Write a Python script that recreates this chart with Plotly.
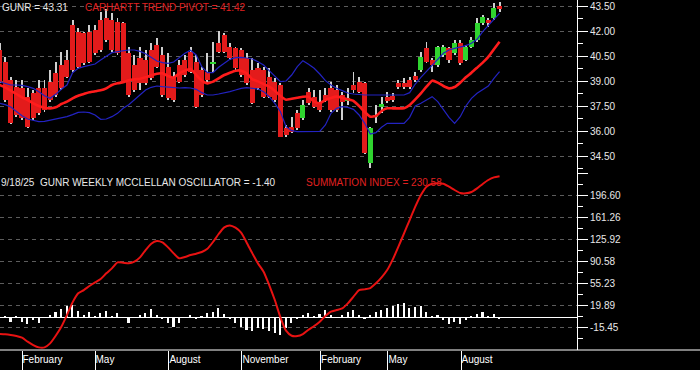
import pandas as pd
import plotly.graph_objects as go

# ---------------- data (weekly, last bar 2025-09-18) ----------------
opens = [40.86, 40.16, 39.06, 38.66, 38.56, 38.06, 38.26, 38.56, 38.56, 38.96,
         39.46, 39.96, 40.26, 42.36, 41.96, 41.86, 41.96, 42.06, 42.66, 42.76,
         42.66, 42.56, 42.46, 40.66, 39.96, 40.36, 40.26, 40.86, 41.16, 40.56,
         39.86, 39.26, 39.96, 40.26, 40.76, 40.16, 39.66, 39.56, 40.02, 41.26,
         41.76, 41.06, 40.96, 40.86, 40.36, 39.66, 39.76, 39.66, 39.26, 38.96,
         38.76, 36.16, 36.26, 37.06, 36.76, 38.36, 38.06, 37.76, 38.16, 38.56,
         38.46, 38.16, 37.82, 38.76, 38.96, 38.86, 34.06, 36.82, 37.46, 38.06,
         38.10, 38.90, 38.86, 39.06, 39.30, 39.66, 40.96, 40.26, 39.96, 40.56,
         40.96, 40.66, 41.26, 40.26, 41.06, 41.46, 42.46, 42.66, 42.76, 43.50]
highs = [41.26, 40.46, 39.26, 39.06, 39.06, 38.56, 38.46, 39.06, 39.06, 39.66,
         40.16, 40.76, 40.86, 42.66, 42.16, 41.96, 42.36, 42.36, 43.16, 43.30,
         43.06, 42.76, 42.56, 41.06, 40.56, 41.06, 40.86, 41.26, 41.56, 41.06,
         40.66, 39.56, 40.26, 40.56, 41.06, 40.56, 39.86, 40.66, 41.36, 42.02,
         41.86, 41.26, 41.06, 40.96, 40.66, 40.36, 40.06, 39.86, 39.76, 39.16,
         38.86, 36.36, 36.86, 37.26, 37.86, 38.56, 38.46, 38.46, 38.56, 38.96,
         38.76, 38.36, 38.56, 39.56, 39.26, 38.96, 36.26, 37.56, 38.06, 38.36,
         38.26, 39.06, 39.16, 39.26, 39.56, 40.76, 41.36, 40.36, 41.10, 41.16,
         41.06, 41.46, 41.46, 41.16, 41.66, 42.76, 42.96, 42.76, 43.66, 43.76]
lows = [38.86, 37.76, 36.42, 36.86, 36.66, 36.16, 36.66, 36.96, 37.16, 37.76,
        38.06, 38.46, 39.16, 39.56, 39.76, 39.96, 40.06, 40.56, 40.76, 41.36,
        40.76, 40.56, 38.86, 38.06, 38.36, 38.46, 38.76, 39.06, 39.76, 38.06,
        37.86, 37.76, 38.86, 39.26, 39.46, 37.36, 38.06, 38.86, 39.56, 40.66,
        40.66, 40.26, 39.66, 39.26, 38.76, 37.62, 38.46, 37.96, 37.96, 37.76,
        35.62, 35.66, 35.86, 36.06, 36.66, 37.56, 37.36, 37.16, 37.76, 37.16,
        37.16, 36.66, 37.56, 38.26, 38.26, 34.62, 33.76, 36.46, 37.06, 37.70,
        37.76, 38.52, 38.52, 38.52, 38.96, 39.56, 40.06, 39.56, 39.86, 40.46,
        40.06, 40.56, 39.96, 40.22, 40.96, 41.36, 42.36, 42.26, 42.66, 43.16]
closes = [38.96, 37.86, 36.46, 36.96, 36.76, 36.26, 36.76, 37.06, 37.26, 37.86,
          38.16, 38.56, 39.26, 39.66, 39.86, 40.06, 40.16, 40.66, 40.86, 41.46,
          40.86, 40.66, 38.96, 38.16, 38.46, 38.86, 38.86, 39.16, 39.86, 38.16,
          37.96, 37.86, 38.96, 39.36, 39.56, 37.46, 38.16, 39.06, 40.16, 40.76,
          40.76, 40.36, 39.76, 39.36, 38.86, 37.70, 38.56, 38.06, 38.06, 37.86,
          35.66, 35.76, 35.96, 36.16, 37.56, 37.66, 37.46, 37.26, 37.86, 37.26,
          37.26, 37.76, 37.96, 38.46, 38.36, 34.66, 36.16, 36.96, 37.62, 37.82,
          37.86, 38.62, 38.62, 38.62, 39.06, 40.46, 40.16, 39.96, 41.06, 41.06,
          40.26, 41.26, 40.06, 41.06, 41.46, 42.46, 42.86, 42.46, 43.36, 43.31]
trend_pivot = [38.76, 38.62, 38.42, 38.22, 38.02, 37.86, 37.66, 37.50, 37.40, 37.36,
               37.42, 37.62, 37.76, 37.96, 38.12, 38.22, 38.32, 38.38, 38.44, 38.56,
               38.76, 38.86, 38.92, 39.04, 39.10, 39.14, 39.22, 39.34, 39.44, 39.46,
               39.30, 39.20, 39.46, 39.62, 39.74, 39.36, 39.02, 38.86, 38.96, 39.16,
               39.36, 39.50, 39.62, 39.62, 39.46, 39.10, 38.98, 38.82, 38.66, 38.42,
               38.10, 37.88, 37.94, 38.00, 38.06, 38.06, 37.76, 37.66, 37.86, 37.98,
               38.06, 38.00, 37.90, 37.80, 37.50, 37.14, 36.86, 36.90, 37.20, 37.36,
               37.36, 37.36, 37.36, 37.56, 37.90, 38.26, 38.66, 39.02, 38.90, 38.70,
               38.56, 38.64, 38.90, 39.22, 39.50, 39.80, 40.10, 40.45, 40.90, 41.35]
band_upper = [38.96, 38.86, 38.76, 38.76, 38.74, 38.66, 38.56, 38.36, 38.12, 37.96,
              38.20, 38.50, 38.76, 39.50, 39.76, 39.86, 39.92, 40.02, 40.26, 40.50,
              40.70, 40.76, 40.82, 40.86, 40.86, 40.78, 40.64, 40.42, 40.20, 40.10,
              40.06, 40.14, 40.38, 40.66, 40.84, 40.56, 39.86, 39.50, 39.50, 39.82,
              40.06, 40.30, 40.40, 40.42, 40.38, 40.32, 40.16, 39.96, 39.62, 39.26,
              38.96, 39.00, 39.36, 39.86, 40.22, 40.00, 39.76, 39.42, 39.02, 38.76,
              38.56, 38.42, 38.28, 38.22, 38.18, 38.16, 38.16, 38.16, 38.16, 38.16,
              38.16, 38.16, 38.16, 38.30, 38.82, 39.22, 39.60, 39.96, 40.30, 40.66,
              40.86, 40.96, 41.02, 41.12, 41.26, 41.50, 41.96, 42.30, 42.70, 43.06]
band_lower = [37.66, 37.58, 37.44, 37.16, 36.92, 36.72, 36.62, 36.56, 36.58, 36.64,
              36.70, 36.78, 36.86, 36.98, 37.12, 37.14, 37.10, 36.96, 36.70, 36.72,
              36.86, 37.06, 37.36, 37.58, 37.86, 38.16, 38.46, 38.62, 38.70, 38.66,
              38.62, 38.58, 38.58, 38.60, 38.58, 38.50, 38.30, 38.16, 38.16, 38.22,
              38.28, 38.36, 38.46, 38.56, 38.60, 38.56, 38.52, 38.36, 38.06, 37.66,
              37.16, 36.26, 36.02, 35.96, 35.96, 35.96, 35.96, 35.98, 36.36, 37.06,
              37.36, 37.46, 37.42, 37.30, 36.96, 36.46, 35.82, 35.90, 36.22, 36.46,
              36.46, 36.46, 36.46, 36.82, 37.50, 37.66, 37.86, 38.06, 37.76, 37.26,
              36.82, 36.46, 36.86, 37.50, 37.96, 38.26, 38.50, 38.70, 39.16, 39.56]
summation = [-26.4, -26.9, -28.0, -29.6, -32.3, -38.7, -44.1, -47.9, -47.9, -41.4,
             -29.1, -14.6, 4.2, 24.6, 39.2, 44.5, 51.0, 56.9, 62.3, 71.4,
             79.4, 89.1, 88.6, 87.5, 90.2, 97.2, 109.0, 119.2, 123.5, 121.3,
             113.3, 103.6, 95.6, 97.7, 100.9, 103.1, 105.8, 111.1, 121.9, 134.8,
             145.5, 148.7, 145.0, 136.9, 120.8, 103.6, 87.5, 74.1, 52.6, 28.4,
             0.5, -21.0, -29.1, -29.6, -26.4, -19.4, -13.5, -6.5, 2.6, 9.6,
             12.3, 15.0, 23.0, 33.8, 44.5, 45.6, 47.7, 55.3, 64.9, 76.7,
             93.9, 114.4, 135.9, 157.3, 178.8, 197.6, 211.1, 215.9, 216.4, 215.9,
             211.1, 205.7, 200.9, 200.3, 202.5, 208.4, 215.4, 221.8, 226.1, 228.0]
oscillator = [1.5, 2.6, -6.6, 1.5, -6.6, -10.3, -3.9, -9.2, 0.5, 4.2,
              9.6, 13.3, 18.7, 20.3, 11.2, 4.2, 8.5, 1.5, 6.9, 11.2,
              3.1, 6.9, 0.3, -8.2, 0.5, 4.2, 6.9, 13.9, 4.2, -2.8,
              -9.2, -14.6, -8.2, 0.5, 4.2, -2.8, 2.6, 6.9, 9.6, 16.0,
              5.8, -2.8, -9.2, -14.6, -20.0, -21.5, -16.0, -18.9, -22.0, -25.0,
              -28.5, -16.0, -9.2, -2.8, 4.2, 8.0, 2.6, 6.5, 11.7, 4.2,
              0.5, 3.5, 9.0, 11.7, 4.2, -2.8, 4.2, 9.6, 12.2, 16.0,
              18.7, 21.9, 23.0, 14.9, 17.6, 19.2, 8.5, 1.5, 4.2, -3.9,
              -10.3, -6.6, -10.9, -3.9, 1.5, 5.8, 8.5, 1.5, 5.8, -1.4]

price_ticks = [34.50, 36.00, 37.50, 39.00, 40.50, 42.00, 43.50]
osc_ticks = [-15.45, 19.89, 55.23, 90.58, 125.92, 161.26, 196.60, 231.94]
osc_tick_labels = ["-15.45", "19.89", "55.23", "90.58", "125.92", "161.26", "196.60", ""]
month_ticks = ["2024-02-01", "2024-05-02", "2024-08-02", "2024-11-01",
               "2025-02-07", "2025-05-02", "2025-08-01"]
month_labels = ["February", "May", "August", "November", "February", "May", "August"]

last_date = "2025-09-18"
price_label = "GUNR = 43.31"
pivot_label = "CARHARTT TREND PIVOT = 41.42"
osc_label = "9/18/25\u00a0 GUNR WEEKLY MCCLELLAN OSCILLATOR = -1.40"
sum_label = "SUMMATION INDEX = 230.58"

# ---------------- figure ----------------
DAY = 86400000
dates = pd.date_range(end=last_date, periods=len(closes), freq="7D")

RED = "#e31b1b"
GREEN = "#2fd42f"
BLUE = "#2323c2"
FONT = "Liberation Sans, Arial, sans-serif"

fig = go.Figure()

# wicks (bars so they sit under the bodies)
fig.add_trace(go.Bar(
    x=dates, y=[h - l for h, l in zip(highs, lows)], base=lows,
    width=1.2 * DAY, marker=dict(color="#cfcfcf", line=dict(width=0)),
    xaxis="x", yaxis="y", hoverinfo="skip"))

# bodies
body_base = [min(o, c) for o, c in zip(opens, closes)]
body_h = [max(abs(c - o), 0.07) for o, c in zip(opens, closes)]
body_col = [GREEN if c >= o else RED for o, c in zip(opens, closes)]
fig.add_trace(go.Bar(
    x=dates, y=body_h, base=body_base, width=6.3 * DAY,
    marker=dict(color=body_col, line=dict(width=0)),
    xaxis="x", yaxis="y", hoverinfo="skip"))

fig.add_trace(go.Scatter(x=dates, y=band_upper, mode="lines",
                         line=dict(color=BLUE, width=1.2), xaxis="x", yaxis="y"))
fig.add_trace(go.Scatter(x=dates, y=band_lower, mode="lines",
                         line=dict(color=BLUE, width=1.2), xaxis="x", yaxis="y"))
fig.add_trace(go.Scatter(x=dates, y=trend_pivot, mode="lines",
                         line=dict(color="#ff1c1c", width=2.6, shape="spline", smoothing=0.4),
                         xaxis="x", yaxis="y"))

# oscillator histogram + summation index
fig.add_trace(go.Bar(x=dates, y=oscillator, width=2.0 * DAY,
                     marker=dict(color="white", line=dict(width=0)),
                     xaxis="x", yaxis="y2"))
fig.add_trace(go.Scatter(x=dates, y=summation, mode="lines",
                         line=dict(color="#e81212", width=2, shape="spline", smoothing=0.6),
                         xaxis="x", yaxis="y2"))

def mids(t):
    out = [t[0] - (t[1] - t[0]) / 2]
    out += [(a + b) / 2 for a, b in zip(t[:-1], t[1:])]
    return out

axis_common = dict(
    side="right", anchor="x", showline=True, linecolor="white", linewidth=1,
    ticks="outside", ticklen=10, tickcolor="white", tickwidth=1,
    showgrid=True, gridcolor="#5c5c5c", griddash="4px,4px", gridwidth=1,
    tickfont=dict(family=FONT, size=10, color="#e8e8e8"),
)

fig.update_layout(
    width=700, height=370,
    margin=dict(l=0, r=123, t=0, b=20),
    paper_bgcolor="black", plot_bgcolor="black",
    showlegend=False, barmode="overlay", bargap=0,
    font=dict(family=FONT, size=10, color="#e8e8e8"),
    xaxis=dict(
        type="date", anchor="y2",
        range=["2024-01-04 14:00", "2025-12-23 12:00"],
        tickvals=month_ticks, ticktext=month_labels,
        ticks="outside", ticklen=20, tickcolor="white", tickwidth=1,
        ticklabelposition="outside right", ticklabelstandoff=0,
        tickfont=dict(family=FONT, size=10, color="white"),
        showgrid=False, showline=False, zeroline=False,
    ),
    yaxis=dict(
        domain=[0.5, 1.0], range=[33.36, 43.86],
        tickvals=price_ticks, ticktext=[f"{v:.2f}" for v in price_ticks],
        zeroline=False,
        minor=dict(ticks="outside", ticklen=5, tickcolor="white",
                   tickvals=mids(price_ticks), showgrid=False),
        **axis_common,
    ),
    yaxis2=dict(
        domain=[0.0, 177 / 350], range=[-52.1, 233.1],
        tickvals=osc_ticks, ticktext=osc_tick_labels,
        zeroline=True, zerolinecolor="white", zerolinewidth=1,
        minor=dict(ticks="outside", ticklen=5, tickcolor="white",
                   tickvals=mids(osc_ticks), showgrid=False),
        **axis_common,
    ),
    shapes=[dict(type="line", xref="paper", yref="paper", x0=0, x1=700 / 577,
                 y0=0, y1=0, line=dict(color="white", width=1))],
)

def label(text, px_x, px_y, color):
    fig.add_annotation(text=text, xref="paper", yref="paper",
                       x=px_x / 577, y=(350 - px_y) / 350,
                       xanchor="left", yanchor="middle", showarrow=False,
                       borderpad=0, font=dict(family=FONT, size=10, color=color))

label(price_label, 1, 7, "#e8e8e8")
label(pivot_label, 84, 7, "#e02020")
label(osc_label, 0, 182, "#e8e8e8")
label(sum_label, 305, 182, "#e02020")

fig.write_html("out.html")
